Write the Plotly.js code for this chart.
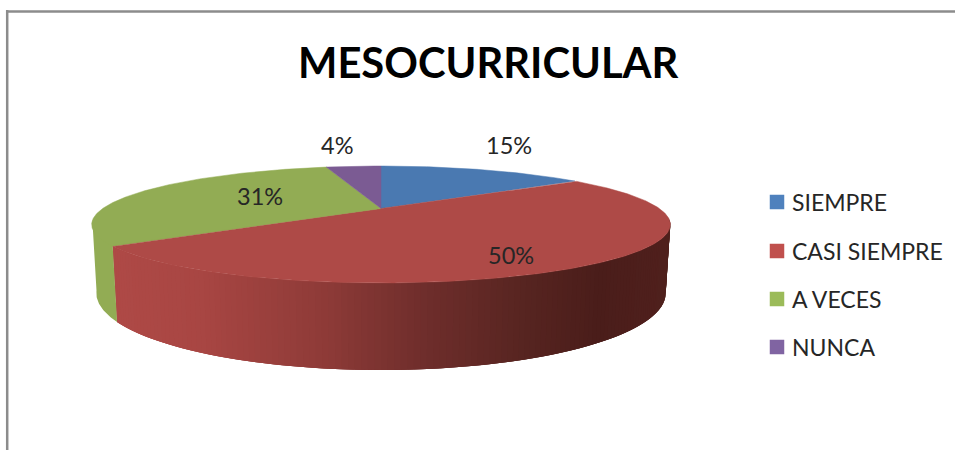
<!DOCTYPE html>
<html><head><meta charset="utf-8">
<script src="https://cdn.plot.ly/plotly-3.0.1.min.js"></script>
<style>html,body{margin:0;padding:0;background:#fff}</style></head>
<body><div id="chart" style="width:955px;height:450px"></div>
<script>
const chartTitle = "MESOCURRICULAR";
const categories = ["SIEMPRE", "CASI SIEMPRE", "A VECES", "NUNCA"];
const values = [15, 50, 31, 4];

// styling
const topColors = ["#4A79B1", "#AE4A47", "#92AC54", "#7B5B93"];
const keyColors = ["#4F81BD", "#C0504D", "#9BBB59", "#8064A2"];
const FONT = "Lato, Carlito, sans-serif";
const TEXT = "#262626";
// Perspective projection of the disc onto page pixels
const K = 0.2735;
const topRing = {cx:381, cy:208.5, a:278.3, b:54.1};
const botRing = {cx:381, cy:272.3, a:273.8, b:71};
function proj(r, deg){
  const t = deg*Math.PI/180, u = Math.sin(t), v = Math.cos(t), d = 1 + K*v;
  return [r.cx + r.a*u/d, r.cy - r.b*v/d];
}
// wall shading by page x
const shade = [[90,[176,74,71]],[200,[168,70,67]],[320,[143,59,56]],[420,[112,46,44]],
               [520,[88,37,33]],[600,[74,29,26]],[672,[80,32,29]]];
function shadeAt(x){
  for(let i=1;i<shade.length;i++){
    if(x<=shade[i][0]){
      const [x0,c0]=shade[i-1],[x1,c1]=shade[i],f=Math.max(0,(x-x0)/(x1-x0));
      return "rgb("+c0.map((c,j)=>Math.round(c+(c1[j]-c)*f)).join(",")+")";
    }
  }
  return "rgb("+shade[shade.length-1][1].join(",")+")";
}
const total = values.reduce((a,b)=>a+b,0);
const starts = []; let acc = 0;
values.forEach(v=>{starts.push(acc/total*360); acc+=v;});
const ends = starts.map((s,i)=>s+values[i]/total*360);

const traces = [];
const base = {type:"scatter",mode:"lines",fill:"toself",hoverinfo:"skip",showlegend:false,line:{width:0}};
// front wall: overlapping bands painted along the rim, so no seams show
const wallFrom = 100, wallTo = 258, step = 1, overlap = 3;
function wallBand(d, d2, col, toApex){
  const xs=[], ys=[];
  if(toApex){
    // bottom rim, up the wall, through the apex: the top face covers the wedge and no seam shows
    const a=proj(topRing,d), b=proj(topRing,d2);
    xs.push(a[0],topRing.cx,b[0]); ys.push(a[1],topRing.cy,b[1]);
  } else {
    for(let a=d; a<=d2+1e-6; a+=0.5){const q=proj(topRing,a); xs.push(q[0]); ys.push(q[1]);}
  }
  for(let a=d2; a>=d-1e-6; a-=0.5){const q=proj(botRing,a); xs.push(q[0]); ys.push(q[1]);}
  traces.push(Object.assign({},base,{x:xs,y:ys,fillcolor:col}));
}
for(let d=wallFrom; d<ends[1]; d+=step){
  const d2 = Math.min(d+step*overlap, ends[1]);
  wallBand(d, d2, shadeAt(proj(topRing,d+step/2)[0]), false);
}
wallBand(ends[1], wallTo, topColors[2], true);
// top face
categories.forEach((c,i)=>{
  const xs=[topRing.cx], ys=[topRing.cy];
  for(let d=starts[i]; d<ends[i]; d+=0.5){const q=proj(topRing,d); xs.push(q[0]); ys.push(q[1]);}
  const q=proj(topRing,ends[i]); xs.push(q[0],topRing.cx); ys.push(q[1],topRing.cy);
  traces.push(Object.assign({},base,{name:c,x:xs,y:ys,fillcolor:topColors[i],
    line:{color:topColors[i],width:0.5},hoverinfo:"name"}));
});
// key
const keyX = 777, keyY = [202, 251, 299, 347], keyTextX = 789.5;
categories.forEach((c,i)=>{
  traces.push({type:"scatter",mode:"markers",name:c,x:[keyX],y:[keyY[i]],hoverinfo:"name",showlegend:false,
    marker:{symbol:"square",size:14.5,color:keyColors[i],line:{width:0}}});
});
const labelX = [509, 511, 260, 337], labelY = [145, 255, 196, 145];
const annotations = [];
values.forEach((v,i)=>{
  annotations.push({x:labelX[i],y:labelY[i],xref:"x",yref:"y",showarrow:false,text:Math.round(v/total*100)+"%",
    xanchor:"center",yanchor:"middle",font:{family:FONT,size:23.5,color:TEXT}});
  annotations.push({x:keyTextX,y:keyY[i],xref:"x",yref:"y",showarrow:false,text:categories[i],
    xanchor:"left",yanchor:"middle",font:{family:FONT,size:23,color:TEXT}});
});
annotations.push({x:488.5,y:61.5,xref:"x",yref:"y",showarrow:false,text:"<b>"+chartTitle+"</b>",
  xanchor:"center",yanchor:"middle",font:{family:FONT,size:41.7,color:"#000"}});

const hidden = {visible:false,fixedrange:true};
const layout = {
  width:955,height:450,margin:{l:0,r:0,t:0,b:0},paper_bgcolor:"#fff",plot_bgcolor:"#fff",showlegend:false,
  xaxis:Object.assign({range:[0,955]},hidden),
  yaxis:Object.assign({range:[450,0]},hidden),
  annotations:annotations,
  shapes:[
    {type:"line",xref:"x",yref:"y",x0:6,x1:955,y0:11.5,y1:11.5,line:{color:"#8c8c8c",width:2.5}},
    {type:"line",xref:"x",yref:"y",x0:7.2,x1:7.2,y0:10,y1:450,line:{color:"#8c8c8c",width:2.5}}
  ]
};
Plotly.newPlot("chart",traces,layout,{displayModeBar:false});
</script></body></html>
